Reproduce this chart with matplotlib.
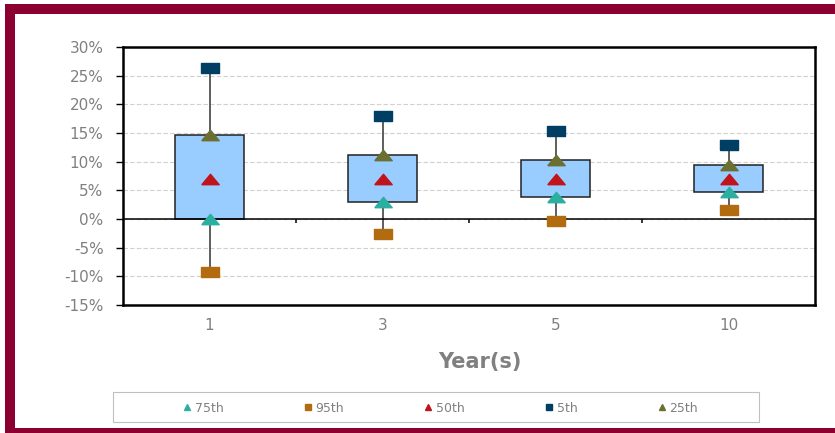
import matplotlib
matplotlib.use('Agg')
import matplotlib.pyplot as plt
from matplotlib.lines import Line2D
from matplotlib.patches import Rectangle
from matplotlib.ticker import FuncFormatter

# percentile values (%)
years = ['1', '3', '5', '10']
p5 = [26.3, 17.9, 15.35, 12.85]
p25 = [14.6, 11.2, 10.35, 9.4]
p50 = [7.0, 7.0, 7.0, 7.0]
p75 = [0.0, 2.9, 3.9, 4.7]
p95 = [-9.25, -2.6, -0.4, 1.55]

c_box = '#99CCFF'
c_p5 = '#003F63'
c_p25 = '#6B7030'
c_p50 = '#C0141C'
c_p75 = '#2BAFA0'
c_p95 = '#B36B10'
grey = '#808080'
maroon = '#8B0030'

# flat markers (the chart is stretched horizontally)
rect = [(-1, -0.62), (1, -0.62), (1, 0.62), (-1, 0.62), (-1, -0.62)]
tri = [(-1, -0.6), (1, -0.6), (0, 0.6), (-1, -0.6)]

fig = plt.figure(figsize=(8.35, 4.33), dpi=100)
ax = fig.add_axes([123/835, 128/433, 692/835, 258/433])

x = list(range(len(years)))

ax.vlines(x, p95, p5, color='#333333', lw=1.1, zorder=2)
ax.bar(x, [t - b for t, b in zip(p25, p75)], bottom=p75, width=0.4,
       color=c_box, edgecolor='#222222', linewidth=1.1, zorder=3)

ms = 12.5
ax.plot(x, p5, ls='none', marker=rect, ms=ms, color=c_p5, zorder=5)
ax.plot(x, p95, ls='none', marker=rect, ms=ms, color=c_p95, zorder=5)
ax.plot(x, p25, ls='none', marker=tri, ms=ms, color=c_p25, zorder=5)
ax.plot(x, p50, ls='none', marker=tri, ms=ms, color=c_p50, zorder=5)
ax.plot(x, p75, ls='none', marker=tri, ms=ms, color=c_p75, zorder=5)

ax.set_xlim(-0.5, len(years) - 0.5)
ax.set_ylim(-15, 30)
ax.set_yticks(range(-15, 31, 5))
ax.yaxis.set_major_formatter(FuncFormatter(lambda v, p: f'{v:.0f}%'))
ax.set_xticks(x)
ax.set_xticklabels(years)

ax.grid(axis='y', color='#D0D0D0', ls=(0, (4, 2)), lw=0.8, zorder=0)
ax.set_axisbelow(True)
ax.axhline(0, color='black', lw=1.1, zorder=4)
# category separators on the zero line
ax.vlines([i + 0.5 for i in x[:-1]], -0.7, 0, color='black', lw=1.1, zorder=4)

for s in ax.spines.values():
    s.set_linewidth(1.8)
    s.set_color('black')

ax.tick_params(axis='y', length=5, width=1, color='black', pad=9,
               labelsize=11, labelcolor=grey)
ax.tick_params(axis='x', length=0, pad=9, labelsize=11, labelcolor=grey)

fig.text(480/835, 1 - 362/433, 'Year(s)', ha='center', va='center',
         fontsize=15, fontweight='bold', color=grey)

# legend frame and entries
fig.patches.append(Rectangle((113/835, 11/433), 646/835, 30/433,
                             transform=fig.transFigure, fill=False,
                             edgecolor='#C0C0C0', lw=0.8))
handles = [
    Line2D([], [], ls='none', marker='^', ms=5, color=c_p75),
    Line2D([], [], ls='none', marker='s', ms=5, color=c_p95),
    Line2D([], [], ls='none', marker='^', ms=5, color=c_p50),
    Line2D([], [], ls='none', marker='s', ms=5, color=c_p5),
    Line2D([], [], ls='none', marker='^', ms=5, color=c_p25),
]
labels = ['75th', '95th', '50th', '5th', '25th']
leg = fig.legend(handles, labels, loc='center', bbox_to_anchor=(440/835, 1 - 408/433),
                 ncol=5, frameon=False, fontsize=9, handlelength=0.8,
                 handletextpad=0.2, columnspacing=6.35)
for t in leg.get_texts():
    t.set_color(grey)

# maroon border
fig.patches.append(Rectangle((5/835, 0), 10/835, 1 - 4/433,
                             transform=fig.transFigure, color=maroon, lw=0))
fig.patches.append(Rectangle((5/835, 1 - 14/433), 1, 10/433,
                             transform=fig.transFigure, color=maroon, lw=0))
fig.patches.append(Rectangle((5/835, 0), 1, 5/433,
                             transform=fig.transFigure, color=maroon, lw=0))

fig.savefig('out.png', dpi=100)
